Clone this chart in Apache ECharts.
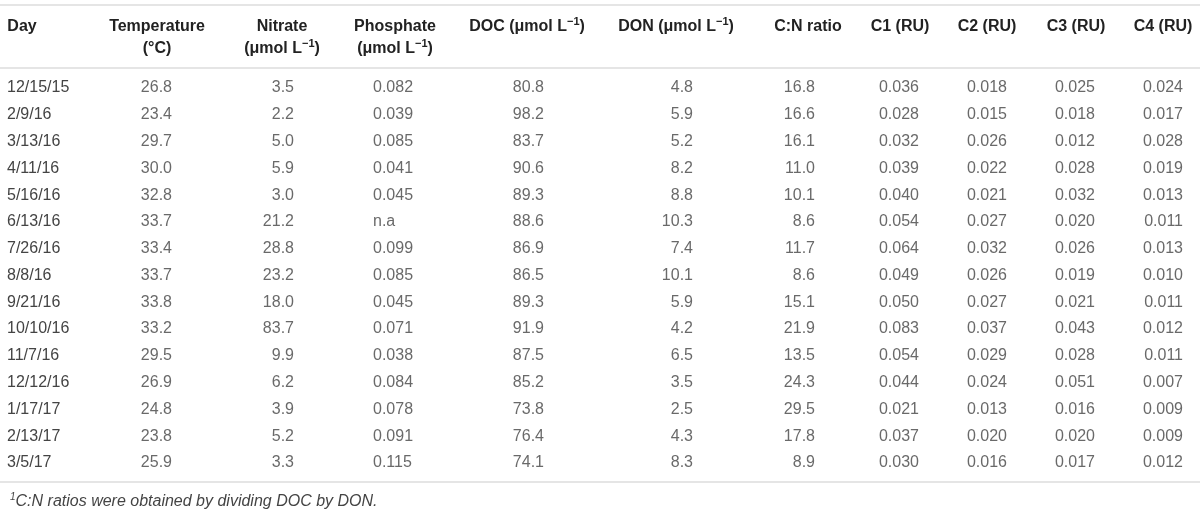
<!DOCTYPE html>
<html>
<head>
<meta charset="utf-8">
<script src="https://cdn.jsdelivr.net/npm/echarts@6/dist/echarts.min.js"></script>
<style>html,body{margin:0;padding:0;background:#fff}#c{width:1200px;height:516px}</style>
</head>
<body>
<div id="c"></div>
<script>
// ---- data ----
var days = ['12/15/15','2/9/16','3/13/16','4/11/16','5/16/16','6/13/16','7/26/16','8/8/16','9/21/16','10/10/16','11/7/16','12/12/16','1/17/17','2/13/17','3/5/17'];
var temperature = [26.8,23.4,29.7,30.0,32.8,33.7,33.4,33.7,33.8,33.2,29.5,26.9,24.8,23.8,25.9];
var nitrate = [3.5,2.2,5.0,5.9,3.0,21.2,28.8,23.2,18.0,83.7,9.9,6.2,3.9,5.2,3.3];
var phosphate = [0.082,0.039,0.085,0.041,0.045,null,0.099,0.085,0.045,0.071,0.038,0.084,0.078,0.091,0.115];
var doc = [80.8,98.2,83.7,90.6,89.3,88.6,86.9,86.5,89.3,91.9,87.5,85.2,73.8,76.4,74.1];
var don = [4.8,5.9,5.2,8.2,8.8,10.3,7.4,10.1,5.9,4.2,6.5,3.5,2.5,4.3,8.3];
var cnRatio = [16.8,16.6,16.1,11.0,10.1,8.6,11.7,8.6,15.1,21.9,13.5,24.3,29.5,17.8,8.9];
var c1 = [0.036,0.028,0.032,0.039,0.040,0.054,0.064,0.049,0.050,0.083,0.054,0.044,0.021,0.037,0.030];
var c2 = [0.018,0.015,0.026,0.022,0.021,0.027,0.032,0.026,0.027,0.037,0.029,0.024,0.013,0.020,0.016];
var c3 = [0.025,0.018,0.012,0.028,0.032,0.020,0.026,0.019,0.021,0.043,0.028,0.051,0.016,0.020,0.017];
var c4 = [0.024,0.017,0.028,0.019,0.013,0.011,0.013,0.010,0.011,0.012,0.011,0.007,0.009,0.009,0.012];
var headers = [
  ['Day'],
  ['Temperature','(°C)'],
  ['Nitrate','(μmol L|−1|)'],
  ['Phosphate','(μmol L|−1|)'],
  ['DOC (μmol L|−1|)'],
  ['DON (μmol L|−1|)'],
  ['C:N ratio'],
  ['C1 (RU)'],
  ['C2 (RU)'],
  ['C3 (RU)'],
  ['C4 (RU)']
];
var footnote = 'C:N ratios were obtained by dividing DOC by DON.';
var missingText = 'n.a';

// ---- layout (positions, not data) ----
var headerCenters = [22,157,282,395,527,676,808,900,987,1076,1163];
var columns = [
  {values: temperature, dec: 1, x: 172, align: 'right'},
  {values: nitrate,     dec: 1, x: 294, align: 'right'},
  {values: phosphate,   dec: 3, x: 373, align: 'left'},
  {values: doc,         dec: 1, x: 544, align: 'right'},
  {values: don,         dec: 1, x: 693, align: 'right'},
  {values: cnRatio,     dec: 1, x: 815, align: 'right'},
  {values: c1,          dec: 3, x: 919, align: 'right'},
  {values: c2,          dec: 3, x: 1007, align: 'right'},
  {values: c3,          dec: 3, x: 1095, align: 'right'},
  {values: c4,          dec: 3, x: 1183, align: 'right'}
];

var FONT = '"Liberation Sans", Arial, Helvetica, sans-serif';
var BODY = '#444';
var HEAD = '#222';
var RULE = '#dcdcdc';

function richLine(s) {
  var parts = s.split('|');
  var out = '';
  parts.forEach(function (p, i) {
    if (!p) return;
    out += (i % 2 === 1) ? '{sup|' + p + '}' : '{b|' + p + '}';
  });
  return out;
}
function headerText(h) {
  var l1 = richLine(h[0]);
  var l2 = h[1] ? richLine(h[1]) : '{b| }';
  return l1 + '\n' + l2;
}

var series = columns.map(function (col) {
  return {
    type: 'scatter',
    xAxisIndex: 0,
    yAxisIndex: 0,
    symbolSize: 0,
    silent: true,
    data: col.values.map(function (v, i) { return [col.x, days[i], v]; }),
    label: {
      show: true,
      position: col.align === 'right' ? 'left' : 'right',
      distance: 0,
      fontFamily: FONT,
      fontSize: 16,
      color: BODY,
      formatter: function (p) {
        var v = p.value[2];
        return v == null ? missingText : v.toFixed(col.dec);
      }
    }
  };
});

var chart = echarts.init(document.getElementById('c'), null, {renderer: 'canvas'});
chart.setOption({
  animation: false,
  backgroundColor: '#fff',
  grid: {left: 0, right: 0, top: 74.6, bottom: 39.6, containLabel: false},
  xAxis: [
    {
      type: 'value', min: 0, max: 1200, position: 'top', offset: 6.6,
      splitLine: {show: false},
      axisTick: {show: false},
      axisLine: {show: true, lineStyle: {color: RULE, width: 1.5}},
      axisLabel: {
        show: true,
        customValues: headerCenters,
        margin: 8,
        formatter: function (val, idx) {
          var i = headerCenters.indexOf(val);
          return headerText(headers[i >= 0 ? i : idx]);
        },
        rich: {
          b: {fontFamily: FONT, fontSize: 16, fontWeight: 'bold', color: HEAD, lineHeight: 22},
          sup: {fontFamily: FONT, fontSize: 11, fontWeight: 'bold', color: HEAD, lineHeight: 15, verticalAlign: 'top'}
        }
      }
    },
    {
      type: 'value', min: 0, max: 1200, position: 'bottom', offset: 5.6,
      splitLine: {show: false},
      axisTick: {show: false},
      axisLabel: {show: false},
      axisLine: {show: true, lineStyle: {color: RULE, width: 1.5}}
    }
  ],
  yAxis: {
    type: 'category',
    inverse: true,
    data: days,
    axisLine: {show: false},
    axisTick: {show: false},
    splitLine: {show: false},
    axisLabel: {
      show: true, inside: true, margin: 7,
      fontFamily: FONT, fontSize: 16, color: BODY, align: 'left'
    }
  },
  title: {
    left: 5, top: 487,
    text: '{sup|1}{t|' + footnote + '}',
    textStyle: {
      fontWeight: 'normal',
      rich: {
        t: {fontFamily: FONT, fontSize: 16, fontStyle: 'italic', fontWeight: 'normal', color: BODY, lineHeight: 20},
        sup: {fontFamily: FONT, fontSize: 10, fontStyle: 'italic', fontWeight: 'normal', color: BODY, lineHeight: 12, verticalAlign: 'top'}
      }
    }
  },
  graphic: [{
    type: 'line',
    shape: {x1: 0, y1: 5, x2: 1200, y2: 5},
    style: {stroke: RULE, lineWidth: 1.5},
    silent: true
  }],
  series: series
});
</script>
</body>
</html>
